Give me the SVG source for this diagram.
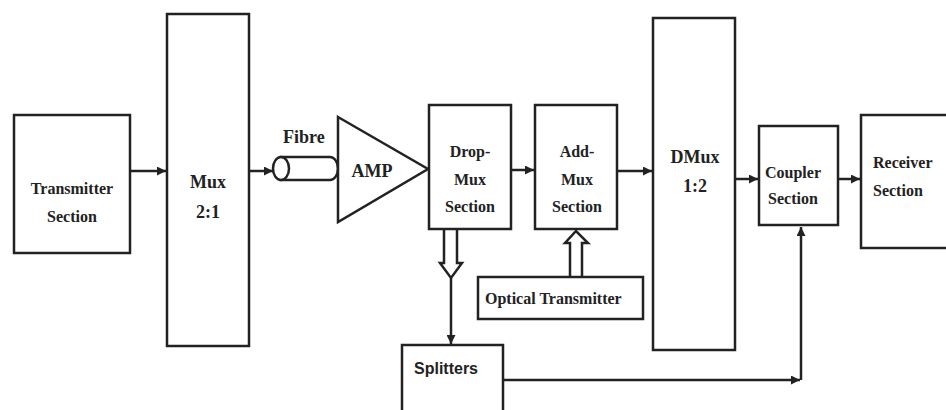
<svg xmlns="http://www.w3.org/2000/svg" width="946" height="410" viewBox="0 0 946 410">
<style>
.box{fill:#fff;stroke:#222;stroke-width:2.5}
.ln{fill:none;stroke:#222;stroke-width:2.5}
.t{font-family:"Liberation Serif","Times New Roman",serif;font-weight:bold;font-size:16px;fill:#222}
.tl{font-size:18px}
.s{font-family:"Liberation Sans",Arial,sans-serif;font-weight:bold;font-size:16px;fill:#222}
.c{text-anchor:middle}
</style>
<defs>
<marker id="ah" viewBox="0 0 10 10" refX="10" refY="5" markerWidth="4" markerHeight="3.6" markerUnits="strokeWidth" orient="auto">
<path d="M0,0 L10,5 L0,10 Z" fill="#222"/>
</marker>
</defs>
<rect width="946" height="410" fill="#fff"/>
<g id="connectors">
<line class="ln" x1="130" y1="171" x2="166" y2="171" marker-end="url(#ah)"/>
<line class="ln" x1="249" y1="171" x2="273" y2="171" marker-end="url(#ah)"/>
<line class="ln" x1="511" y1="170" x2="534" y2="170" marker-end="url(#ah)"/>
<line class="ln" x1="617" y1="171" x2="652" y2="171" marker-end="url(#ah)"/>
<line class="ln" x1="735" y1="179" x2="758" y2="179" marker-end="url(#ah)"/>
<line class="ln" x1="838" y1="179" x2="860" y2="179" marker-end="url(#ah)"/>
<path class="ln" d="M444,230 L444,263 L440,263 L451,278 L462,263 L457,263 L457,230"/>
<line class="ln" x1="451" y1="278" x2="451" y2="344" marker-end="url(#ah)"/>
<path class="ln" d="M570,277 L570,243 L565,243 L576,231 L588,243 L582,243 L582,277"/>
<line class="ln" x1="503" y1="380" x2="800" y2="380" marker-end="url(#ah)"/>
<line class="ln" x1="801" y1="380" x2="801" y2="227" marker-end="url(#ah)"/>
</g>
<g id="transmitter">
<rect class="box" x="14" y="115" width="116" height="138"/>
<text class="t c" x="72" y="194">Transmitter</text>
<text class="t c" x="72" y="222">Section</text>
</g>
<g id="mux">
<rect class="box" x="167" y="14" width="82" height="332"/>
<text class="t tl c" x="208" y="188">Mux</text>
<text class="t tl c" x="208" y="218">2:1</text>
</g>
<g id="fibre">
<path class="box" d="M281,157 L330,157 A8,11.5 0 0 1 330,180 L281,180 Z"/>
<ellipse class="box" cx="281" cy="168.5" rx="8" ry="11.5"/>
<text class="t tl" x="283" y="143">Fibre</text>
</g>
<g id="amp">
<polygon class="box" points="338,117 428,169 338,222"/>
<text class="t tl c" x="372" y="177">AMP</text>
</g>
<g id="dropmux">
<rect class="box" x="429" y="105" width="82" height="124"/>
<text class="t c" x="470" y="157">Drop-</text>
<text class="t c" x="470" y="185">Mux</text>
<text class="t c" x="470" y="212">Section</text>
</g>
<g id="addmux">
<rect class="box" x="535" y="105" width="82" height="124"/>
<text class="t c" x="577" y="157">Add-</text>
<text class="t c" x="577" y="185">Mux</text>
<text class="t c" x="577" y="212">Section</text>
</g>
<g id="optical">
<rect class="box" x="478" y="277" width="165" height="42"/>
<text class="t" x="485" y="304">Optical Transmitter</text>
</g>
<g id="dmux">
<rect class="box" x="653" y="18" width="82" height="332"/>
<text class="t tl c" x="695" y="163">DMux</text>
<text class="t tl c" x="695" y="192">1:2</text>
</g>
<g id="coupler">
<rect class="box" x="759" y="126" width="79" height="99"/>
<text class="t c" x="793" y="178">Coupler</text>
<text class="t c" x="793" y="204">Section</text>
</g>
<g id="receiver">
<rect class="box" x="861" y="115" width="100" height="133"/>
<text class="t" x="873" y="168">Receiver</text>
<text class="t" x="873" y="196">Section</text>
</g>
<g id="splitters">
<rect class="box" x="402" y="345" width="101" height="80"/>
<text class="s" x="414" y="374">Splitters</text>
</g>
</svg>
